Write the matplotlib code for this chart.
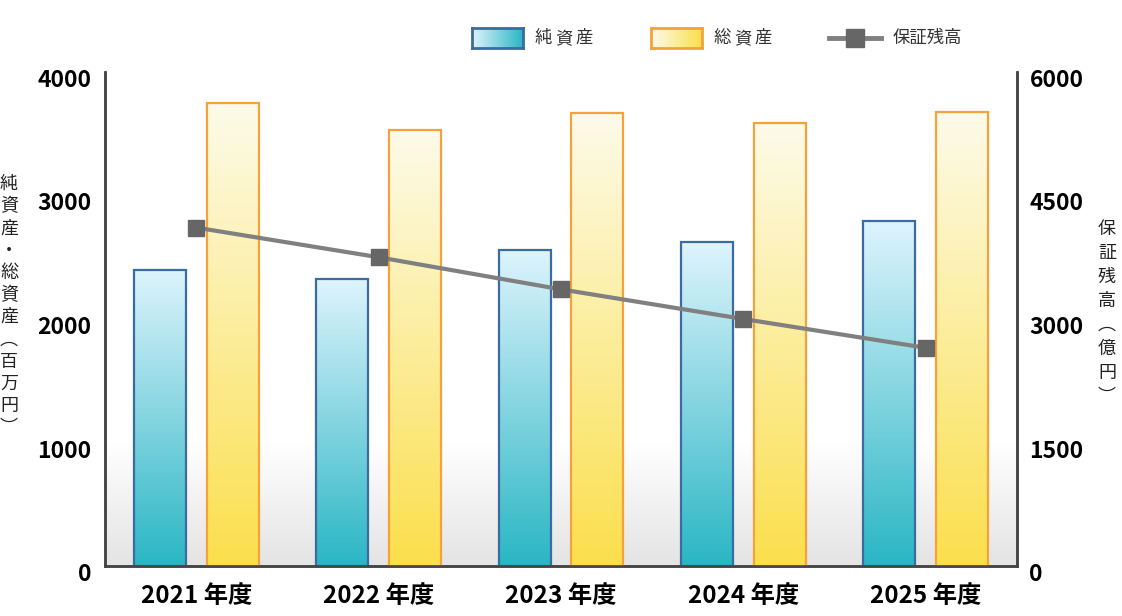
"""Net assets / total assets bars with guarantee balance line (twin axis)."""

import matplotlib
import numpy as np

matplotlib.use("Agg")
import matplotlib.pyplot as plt
from matplotlib.colors import LinearSegmentedColormap
from matplotlib.lines import Line2D
from matplotlib.transforms import ScaledTranslation

plt.rcParams["font.family"] = ["Noto Sans CJK JP", "DejaVu Sans"]

years = ["2021 年度", "2022 年度", "2023 年度", "2024 年度", "2025 年度"]
net_assets = [2400, 2320, 2560, 2620, 2790]        # 百万円
total_assets = [3750, 3530, 3670, 3590, 3680]      # 百万円
guarantee = [4110, 3750, 3360, 3000, 2650]         # 億円
left_ticks = [0, 1000, 2000, 3000, 4000]
right_ticks = [0, 1500, 3000, 4500, 6000]

BLUE_TOP, BLUE_BOTTOM, BLUE_EDGE = "#def4fd", "#2ab6c4", "#3b6b9f"
ORANGE_TOP, ORANGE_BOTTOM, ORANGE_EDGE = "#fdfbea", "#fbdf4c", "#f7a13a"
LINE_COLOR, MARKER_COLOR = "#808080", "#666666"
SPINE_COLOR = "#444444"

W, H = 1122, 616


def gradient_fill(ax, patches, top, bottom):
    """Replace the flat fill of each bar with a vertical gradient."""
    cmap = LinearSegmentedColormap.from_list("bar", [bottom, top])
    grad = np.linspace(0, 1, 256).reshape(-1, 1)
    for p in patches:
        x0, y0 = p.get_x(), p.get_y()
        im = ax.imshow(grad, extent=(x0, x0 + p.get_width(), y0, y0 + p.get_height()),
                       origin="lower", cmap=cmap, aspect="auto", zorder=2)
        im.set_clip_path(p)
        p.set_facecolor("none")
        p.set_zorder(3)


fig = plt.figure(figsize=(W / 100, H / 100), dpi=100)
ax = fig.add_axes([105 / W, 50 / H, 912 / W, 494 / H])

# plot background: white fading to light gray near the baseline
bg = np.clip(1 - np.linspace(0, 1, 256) / 0.25, 0, 1).reshape(-1, 1)
bg_cmap = LinearSegmentedColormap.from_list("bg", ["#ffffff", "#e4e4e4"])
ax.imshow(bg, extent=(0, 1, 0, 1), origin="lower", cmap=bg_cmap, aspect="auto",
          transform=ax.transAxes, zorder=0)

x = np.arange(len(years))
width = 0.285
blue = ax.bar(x - 0.2, net_assets, width=width, edgecolor=BLUE_EDGE, linewidth=1.6)
orange = ax.bar(x + 0.2, total_assets, width=width, edgecolor=ORANGE_EDGE, linewidth=1.6)
gradient_fill(ax, blue, BLUE_TOP, BLUE_BOTTOM)
gradient_fill(ax, orange, ORANGE_TOP, ORANGE_BOTTOM)

ax.set_xlim(-0.5, len(years) - 0.5)
ax.set_ylim(0, 4000)
ax.set_yticks(left_ticks)
ax.set_xticks(x)
ax.set_xticklabels(years)
ax.tick_params(axis="y", length=0, labelsize=16.5, pad=10)
ax.tick_params(axis="x", length=0, labelsize=17.5, pad=13)
for lab in ax.get_xticklabels() + ax.get_yticklabels():
    lab.set_fontweight("bold")
offset = ScaledTranslation(0, -0.06, fig.dpi_scale_trans)
for lab in ax.get_yticklabels():
    lab.set_transform(lab.get_transform() + offset)

ax2 = ax.twinx()
ax2.plot(x, guarantee, color=LINE_COLOR, linewidth=3, marker="s", markersize=11,
         markerfacecolor=MARKER_COLOR, markeredgecolor=MARKER_COLOR, zorder=5)
ax2.set_ylim(0, 6000)
ax2.set_yticks(right_ticks)
ax2.tick_params(axis="y", length=0, labelsize=16.5, pad=9)
for lab in ax2.get_yticklabels():
    lab.set_fontweight("bold")
    lab.set_transform(lab.get_transform() + offset)

for a in (ax, ax2):
    a.spines["top"].set_visible(False)
    for side in ("left", "right", "bottom"):
        a.spines[side].set_color(SPINE_COLOR)
        a.spines[side].set_linewidth(1.8)

# vertical axis titles, one character per line
fig.text(9 / W, 1 - 306 / H, "\n".join("純資産・総資産︵百万円︶"), ha="center", va="center",
         fontsize=13, linespacing=1.3, color="#222222")
fig.text(1107 / W, 1 - 313 / H, "\n".join("保証残高︵億円︶"), ha="center", va="center",
         fontsize=13, linespacing=1.42, color="#222222")


# legend drawn by hand so the swatches can carry gradients
def legend_swatch(x0, left, right, edge):
    sw = fig.add_axes([x0 / W, 1 - 48 / H, 51 / W, 20 / H])
    cmap = LinearSegmentedColormap.from_list("sw", [left, right])
    sw.imshow(np.linspace(0, 1, 256).reshape(1, -1), cmap=cmap, aspect="auto")
    sw.set_xticks([])
    sw.set_yticks([])
    for s in sw.spines.values():
        s.set_color(edge)
        s.set_linewidth(2)


legend_swatch(472, BLUE_TOP, BLUE_BOTTOM, BLUE_EDGE)
legend_swatch(651, ORANGE_TOP, ORANGE_BOTTOM, ORANGE_EDGE)
fig.add_artist(Line2D([829 / W, 881 / W], [1 - 38 / H, 1 - 38 / H], transform=fig.transFigure,
                      color=LINE_COLOR, linewidth=3.5))
fig.add_artist(Line2D([855 / W], [1 - 38 / H], transform=fig.transFigure, marker="s",
                      markersize=13, color=MARKER_COLOR, linestyle="none"))

# the first two legend labels are letter-spaced, so place them glyph by glyph
for xpos, label in [(535, "純資産"), (714, "総資産")]:
    for k, ch in enumerate(label):
        fig.text((xpos + 20 * k) / W, 1 - 38 / H, ch, ha="left", va="center",
                 fontsize=12.5, color="#333333")
fig.text(893 / W, 1 - 38 / H, "保証残高", ha="left", va="center", fontsize=12.5,
         color="#333333")

fig.savefig("out.png", dpi=100)
